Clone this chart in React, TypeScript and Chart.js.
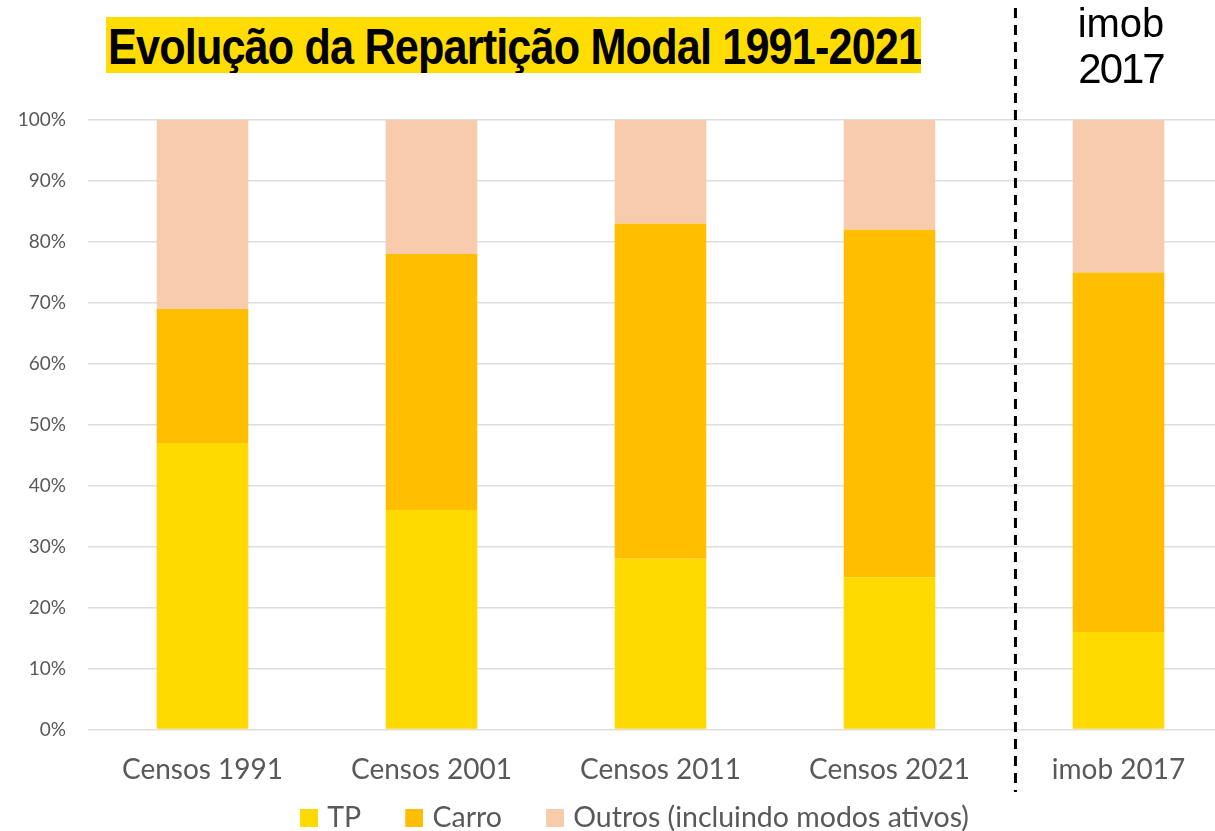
import React, { useEffect, useRef } from "react";
import { Chart, registerables } from "chart.js";

Chart.register(...registerables);

const categories = ["Censos 1991", "Censos 2001", "Censos 2011", "Censos 2021", "imob 2017"];
const tpValues = [47, 36, 28, 25, 16];
const carroValues = [22, 42, 55, 57, 59];
const outrosValues = [31, 22, 17, 18, 25];
const seriesLabels = ["TP", "Carro", "Outros (incluindo modos ativos)"];
const seriesColors = ["#FFD900", "#FFBF00", "#F8CBAD"];
const yTicks = [0, 10, 20, 30, 40, 50, 60, 70, 80, 90, 100];

const dividerPlugin = {
  id: "divider",
  afterDraw(chart: any) {
    const xs = chart.scales.x;
    const a = xs.getPixelForValue(3);
    const b = xs.getPixelForValue(4);
    const x = a + (b - a) * 0.55;
    const ctx = chart.ctx;
    ctx.save();
    ctx.strokeStyle = "#000";
    ctx.lineWidth = 3;
    ctx.setLineDash([10, 7]);
    ctx.beginPath();
    ctx.moveTo(x, 8);
    ctx.lineTo(x, 792);
    ctx.stroke();
    ctx.restore();
  },
};

function makeSwatch(color: string) {
  const c = document.createElement("canvas");
  c.width = 59;
  c.height = 18;
  const g = c.getContext("2d")!;
  g.fillStyle = color;
  g.fillRect(41, 0, 18, 18);
  return c;
}

export default function App() {
  const ref = useRef<HTMLCanvasElement>(null);
  useEffect(() => {
    if (!ref.current) return;
    const swatches = seriesColors.map(makeSwatch);
    const chart = new Chart(ref.current, {
      type: "bar",
      data: {
        labels: categories,
        datasets: [
          { label: seriesLabels[0], data: tpValues, backgroundColor: seriesColors[0] },
          { label: seriesLabels[1], data: carroValues, backgroundColor: seriesColors[1] },
          { label: seriesLabels[2], data: outrosValues, backgroundColor: seriesColors[2] },
        ],
      },
      options: {
        responsive: false,
        animation: false,
        datasets: { bar: { barPercentage: 0.8, categoryPercentage: 0.5 } },
        layout: { padding: { top: 120, right: 8, left: 0, bottom: 0 } },
        plugins: {
          legend: {
            position: "bottom",
            labels: {
              font: { family: "Lato", size: 28.5 },
              color: "#595959",
              usePointStyle: true,
              pointStyleWidth: 49,
              boxWidth: 18,
              boxHeight: 18,
              padding: 8,
              generateLabels: (c: any) =>
                (Chart as any).defaults.plugins.legend.labels
                  .generateLabels(c)
                  .map((l: any, i: number) => ({ ...l, pointStyle: swatches[i] })),
            },
          },
          tooltip: { enabled: false },
          title: { display: false },
        },
        scales: {
          x: {
            stacked: true,
            grid: { display: false, drawTicks: false },
            border: { display: false },
            ticks: {
              font: { family: "Lato", size: 28 },
              color: "#595959",
              padding: 24,
            },
            afterFit(scale: any) {
              scale.height = 66;
            },
          },
          y: {
            stacked: true,
            min: 0,
            max: 100,
            afterBuildTicks(scale: any) {
              scale.ticks = yTicks.map((v) => ({ value: v }));
            },
            grid: { color: "#DEDEDE", lineWidth: 1.5, drawTicks: false },
            border: { display: false },
            ticks: {
              font: { family: "Lato", size: 19 },
              color: "#595959",
              padding: 22,
              callback: (v: any) => v + "%",
            },
            afterFit(scale: any) {
              scale.width = 88;
            },
          },
        },
      },
      plugins: [dividerPlugin],
    } as any);
    return () => chart.destroy();
  }, []);

  return (
    <div
      style={{
        position: "fixed",
        left: 0,
        top: 0,
        width: 1215,
        height: 831,
        overflow: "hidden",
        background: "#fff",
      }}
    >
      <canvas ref={ref} width={1241} height={842} style={{ position: "absolute", left: 0, top: 0 }} />
      <div
        style={{
          position: "absolute",
          left: 106,
          top: 17,
          width: 815,
          height: 56,
          background: "#FFDD00",
          overflow: "hidden",
        }}
      >
        <span
          style={{
            display: "inline-block",
            whiteSpace: "nowrap",
            fontFamily: "'Liberation Sans', Arial, sans-serif",
            fontWeight: "bold",
            fontSize: 50,
            lineHeight: "60px",
            letterSpacing: -1,
            transform: "scaleX(0.865)",
            transformOrigin: "left center",
            marginLeft: 2,
            color: "#000",
          }}
        >
          Evolução da Repartição Modal 1991-2021
        </span>
      </div>
      <div
        style={{
          position: "absolute",
          left: 1060,
          top: 0,
          width: 122,
          textAlign: "center",
          fontFamily: "'Liberation Sans', Arial, sans-serif",
          fontSize: 40,
          lineHeight: "46px",
          color: "#000",
        }}
      >
        <div>imob</div>
        <div style={{ letterSpacing: -2, fontSize: 42 }}>2017</div>
      </div>
    </div>
  );
}
